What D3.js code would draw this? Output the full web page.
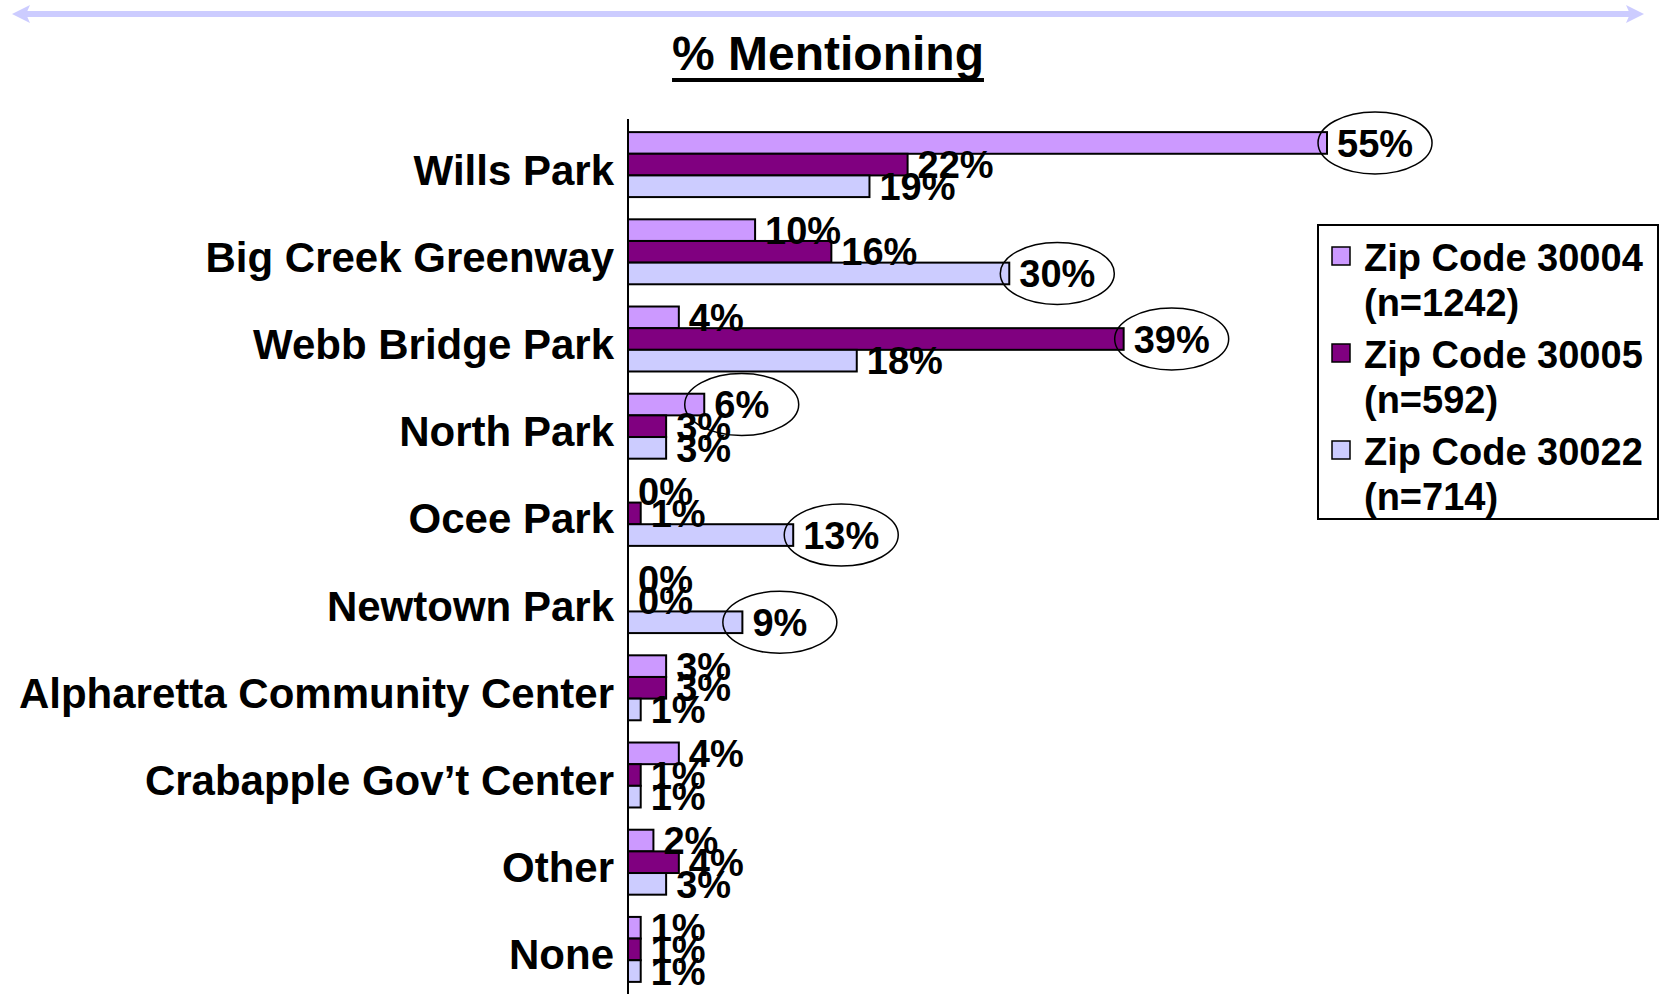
<!DOCTYPE html>
<html>
<head>
<meta charset="utf-8">
<script src="https://cdn.jsdelivr.net/npm/d3@7"></script>
<style>
  body { margin: 0; background: #fff; }
  svg text { font-family: Arial, "Liberation Sans", sans-serif; font-weight: bold; fill: #000; }
</style>
</head>
<body>
<div id="chart"></div>
<script>
// Categories (top to bottom)
var categories = ["Wills Park", "Big Creek Greenway", "Webb Bridge Park", "North Park", "Ocee Park",
    "Newtown Park", "Alpharetta Community Center", "Crabapple Gov\u2019t Center", "Other", "None"];

// Series
var seriesNames = ["Zip Code 30004", "Zip Code 30005", "Zip Code 30022"];
var sampleSizes = ["(n=1242)", "(n=592)", "(n=714)"];
var zip30004 = [55, 10, 4, 6, 0, 0, 3, 4, 2, 1];
var zip30005 = [22, 16, 39, 3, 1, 0, 3, 1, 4, 1];
var zip30022 = [19, 30, 18, 3, 13, 9, 1, 1, 3, 1];

// Categories where the highest value gets circled
var circledCategories = ["Wills Park", "Big Creek Greenway", "Webb Bridge Park", "North Park", "Ocee Park", "Newtown Park"];

var colors = ["#cc99ff", "#800080", "#ccccff"];
var allSeries = [zip30004, zip30005, zip30022];

var W = 1667, H = 994;

var svg = d3.select("#chart")
    .append("svg")
        .attr("width", W)
        .attr("height", H);

// Top double arrow
var arrowY = 14;
svg.append("line")
    .attr("x1", 24).attr("x2", 1630)
    .attr("y1", arrowY).attr("y2", arrowY)
    .attr("stroke", "#ccccff")
    .attr("stroke-width", 6);
svg.append("path")
    .attr("d", "M12," + arrowY + " L30," + (arrowY - 9) + " L26," + arrowY + " L30," + (arrowY + 9) + "Z")
    .attr("fill", "#ccccff");
svg.append("path")
    .attr("d", "M1644," + arrowY + " L1626," + (arrowY - 9) + " L1630," + arrowY + " L1626," + (arrowY + 9) + "Z")
    .attr("fill", "#ccccff");

// Title
var title = svg.append("text")
    .attr("x", 828)
    .attr("y", 70)
    .attr("text-anchor", "middle")
    .style("font-size", "48px")
    .text("% Mentioning");
var tb = title.node().getBBox();
svg.append("line")
    .attr("x1", tb.x).attr("x2", tb.x + tb.width)
    .attr("y1", 80).attr("y2", 80)
    .attr("stroke", "#000")
    .attr("stroke-width", 4);

// Scales
var axisX = 628;
var x = d3.scaleLinear().domain([0, 55]).range([axisX, 1327]);
var y = d3.scaleBand()
    .domain(categories)
    .range([121, 993])
    .paddingInner(0.255)
    .paddingOuter(0.1275);
var ySub = d3.scaleBand()
    .domain(d3.range(seriesNames.length))
    .range([0, y.bandwidth()]);

// Category labels
svg.selectAll(".cat")
    .data(categories)
    .enter().append("text")
        .attr("class", "cat")
        .attr("x", 614)
        .attr("y", function(d) { return y(d) + y.bandwidth() / 2 + 20; })
        .attr("text-anchor", "end")
        .style("font-size", "42px")
        .text(function(d) { return d; });

// Bars
var bars = [];
categories.forEach(function(c, ci) {
    allSeries.forEach(function(s, si) {
        bars.push({ cat: c, s: si, v: s[ci] });
    });
});

svg.selectAll(".bar")
    .data(bars.filter(function(d) { return d.v > 0; }))
    .enter().append("rect")
        .attr("class", "bar")
        .attr("x", x(0))
        .attr("y", function(d) { return y(d.cat) + ySub(d.s); })
        .attr("width", function(d) { return x(d.v) - x(0); })
        .attr("height", ySub.bandwidth())
        .attr("fill", function(d) { return colors[d.s]; })
        .attr("stroke", "#000")
        .attr("stroke-width", 2);

// Value labels
var labels = svg.selectAll(".val")
    .data(bars)
    .enter().append("text")
        .attr("class", "val")
        .attr("x", function(d) { return x(d.v) + 10; })
        .attr("y", function(d) { return y(d.cat) + ySub(d.s) + ySub.bandwidth() / 2; })
        .attr("dy", "0.36em")
        .style("font-size", "38px")
        .text(function(d) { return d.v + "%"; });

// Circles round the highest value in the park categories
labels.each(function(d) {
    if (circledCategories.indexOf(d.cat) < 0) return;
    var ci = categories.indexOf(d.cat);
    var maxV = d3.max(allSeries, function(s) { return s[ci]; });
    if (d.v !== maxV) return;
    var w = this.getComputedTextLength();
    svg.append("ellipse")
        .attr("cx", x(d.v) + 10 + w / 2)
        .attr("cy", y(d.cat) + ySub(d.s) + ySub.bandwidth() / 2)
        .attr("rx", 57)
        .attr("ry", 31)
        .attr("fill", "none")
        .attr("stroke", "#000")
        .attr("stroke-width", 1.5);
});

// Vertical axis line
svg.append("line")
    .attr("x1", axisX).attr("x2", axisX)
    .attr("y1", 119).attr("y2", H)
    .attr("stroke", "#000")
    .attr("stroke-width", 2);

// Legend
var legend = svg.append("g").attr("transform", "translate(1318,225)");
legend.append("rect")
    .attr("width", 340)
    .attr("height", 294)
    .attr("fill", "#fff")
    .attr("stroke", "#000")
    .attr("stroke-width", 2);

var items = legend.selectAll(".item")
    .data(seriesNames)
    .enter().append("g")
        .attr("class", "item")
        .attr("transform", function(d, i) { return "translate(0," + (i * 97) + ")"; });
items.append("rect")
    .attr("x", 14).attr("y", 22)
    .attr("width", 18).attr("height", 18)
    .attr("fill", function(d, i) { return colors[i]; })
    .attr("stroke", "#000")
    .attr("stroke-width", 1.5);
items.append("text")
    .attr("x", 46).attr("y", 46)
    .style("font-size", "38px")
    .text(function(d) { return d; });
items.append("text")
    .attr("x", 46).attr("y", 91)
    .style("font-size", "38px")
    .text(function(d, i) { return sampleSizes[i]; });
</script>
</body>
</html>
